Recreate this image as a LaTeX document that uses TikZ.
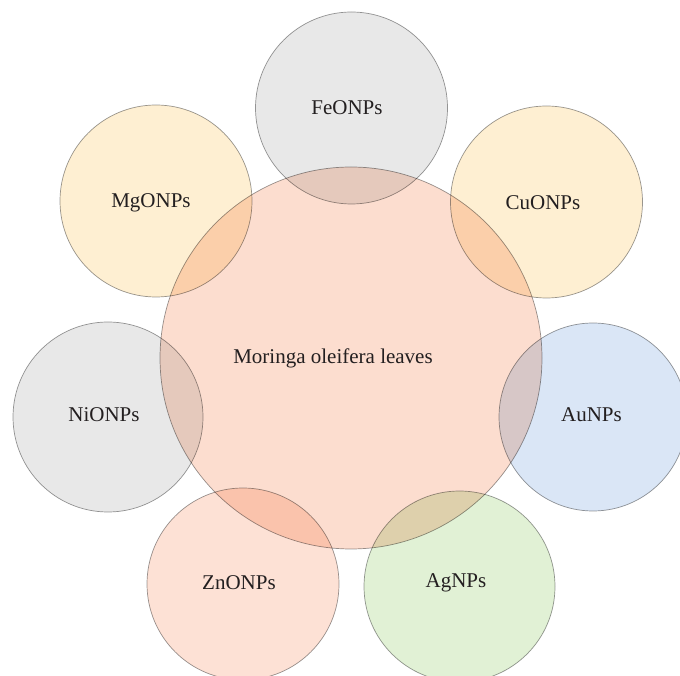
\documentclass[tikz,border=0pt]{standalone}
\usepackage{fontspec}
\setmainfont{Liberation Serif}
\definecolor{cgray}{HTML}{E8E8E8}
\definecolor{cyellow}{HTML}{FEEFD2}
\definecolor{cblue}{HTML}{DAE6F6}
\definecolor{cgreen}{HTML}{E1F1D5}
\definecolor{csalmon}{HTML}{FDE1D5}
\definecolor{ccenter}{HTML}{FCDDCF}
\definecolor{cline}{HTML}{9A9A9A}
\definecolor{ctext}{HTML}{231F20}
\begin{document}
\begin{tikzpicture}[x=1pt,y=1pt,
  bubble/.style={circle, draw=cline, line width=0.7pt, inner sep=0pt},
  lbl/.style={text=ctext, font=\fontsize{21}{25}\selectfont, inner sep=0pt}]
\useasboundingbox (0,0) rectangle (680,675);
\clip (0,0) rectangle (680,675);
\fill[white] (0,0) rectangle (680,675);
\begin{scope}[blend mode=multiply]
\node[bubble, fill=ccenter, minimum size=382pt] (c) at (351,317) {};
\node[bubble, fill=cgray, minimum size=192pt] (fe) at (351.5,567) {};
\node[bubble, fill=cyellow, minimum size=192pt] (cu) at (546.5,473) {};
\node[bubble, fill=cblue, minimum size=188pt] (au) at (593,258) {};
\node[bubble, fill=cgreen, minimum size=191pt] (ag) at (459.5,88.5) {};
\node[bubble, fill=csalmon, minimum size=192pt] (zn) at (243,91) {};
\node[bubble, fill=cgray, minimum size=190pt] (ni) at (108,258) {};
\node[bubble, fill=cyellow, minimum size=192pt] (mg) at (156,474) {};
\end{scope}
\node[lbl] (tc) at (333,317) {Moringa oleifera leaves};
\node[lbl] (tfe) at (347,567) {FeONPs};
\node[lbl] (tcu) at (543,472) {CuONPs};
\node[lbl] (tau) at (591.5,260) {AuNPs};
\node[lbl] (tag) at (456,92) {AgNPs};
\node[lbl] (tzn) at (239,92) {ZnONPs};
\node[lbl] (tni) at (104,260) {NiONPs};
\node[lbl] (tmg) at (151,472) {MgONPs};
\end{tikzpicture}
\end{document}
